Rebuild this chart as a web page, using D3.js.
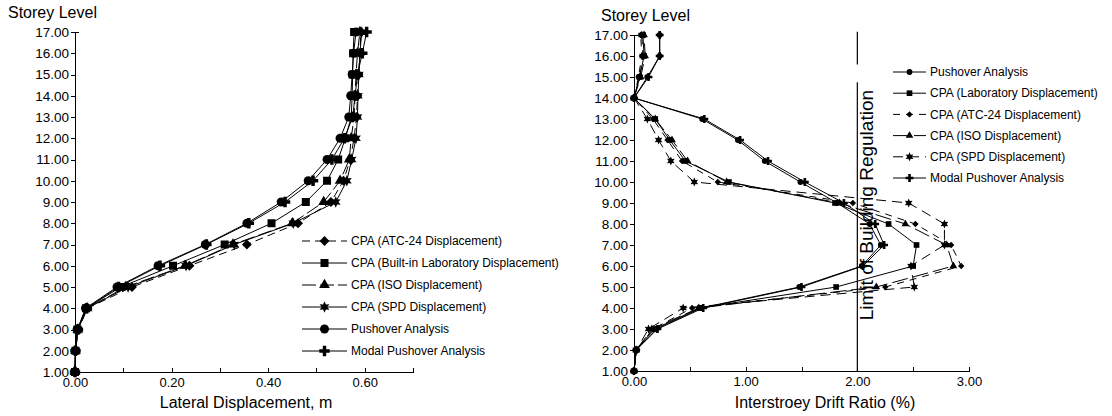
<!DOCTYPE html>
<html>
<head>
<meta charset="utf-8">
<script src="https://cdn.jsdelivr.net/npm/d3@7"></script>
<style>
	body { margin: 0; background: #fff; }
	svg { display: block; font-family: "Liberation Sans", Arial, sans-serif; }
	.axis path, .axis line { stroke: #000; stroke-width: 1; shape-rendering: crispEdges; }
	.axis text { fill: #000; }
</style>
</head>
<body>
<svg id="chart" width="1112" height="416"></svg>
<script>
// storey levels (y categories)
const storeys = [1, 2, 3, 4, 5, 6, 7, 8, 9, 10, 11, 12, 13, 14, 15, 16, 17];

// lateral displacement (m), left panel
const dispAtc = [0, 0.001, 0.007, 0.026, 0.118, 0.237, 0.356, 0.462, 0.530, 0.556, 0.570, 0.578, 0.583, 0.585, 0.587, 0.590, 0.592];
const dispBuiltIn = [0, 0.001, 0.005, 0.023, 0.095, 0.203, 0.310, 0.407, 0.478, 0.522, 0.545, 0.560, 0.572, 0.574, 0.575, 0.576, 0.578];
const dispIso = [0, 0.001, 0.006, 0.025, 0.105, 0.228, 0.327, 0.450, 0.515, 0.549, 0.568, 0.572, 0.578, 0.580, 0.582, 0.585, 0.590];
const dispSpd = [0, 0.001, 0.006, 0.025, 0.110, 0.230, 0.330, 0.452, 0.540, 0.563, 0.573, 0.582, 0.585, 0.586, 0.588, 0.590, 0.594];
const dispPushover = [0, 0.001, 0.005, 0.022, 0.087, 0.172, 0.270, 0.356, 0.427, 0.483, 0.522, 0.549, 0.567, 0.571, 0.574, 0.577, 0.582];
const dispModal = [0, 0.001, 0.006, 0.024, 0.090, 0.176, 0.272, 0.360, 0.435, 0.493, 0.532, 0.558, 0.575, 0.580, 0.585, 0.595, 0.604];

// interstorey drift ratio (%), right panel
const driftPushover = [0, 0.02, 0.20, 0.60, 1.48, 2.04, 2.21, 2.11, 1.82, 1.49, 1.17, 0.93, 0.61, 0, 0.12, 0.23, 0.23];
const driftLab = [0, 0.02, 0.18, 0.59, 1.81, 2.50, 2.53, 2.28, 1.80, 0.85, 0.46, 0.32, 0.19, 0, 0.05, 0.09, 0.08];
const driftAtc = [0, 0.02, 0.17, 0.52, 2.25, 2.93, 2.84, 2.52, 1.96, 0.75, 0.43, 0.30, 0.17, 0, 0.04, 0.07, 0.06];
const driftIso = [0, 0.02, 0.16, 0.58, 2.17, 2.86, 2.80, 2.43, 1.84, 0.83, 0.48, 0.34, 0.19, 0, 0.06, 0.10, 0.09];
const driftSpd = [0, 0.02, 0.13, 0.44, 2.51, 2.48, 2.78, 2.78, 2.46, 0.54, 0.33, 0.22, 0.12, 0, 0.05, 0.08, 0.07];
const driftModal = [0, 0.02, 0.21, 0.62, 1.50, 2.05, 2.24, 2.16, 1.88, 1.53, 1.20, 0.95, 0.63, 0, 0.13, 0.23, 0.23];

// tick values
const yTicks = [1, 2, 3, 4, 5, 6, 7, 8, 9, 10, 11, 12, 13, 14, 15, 16, 17];
const dispTicks = [0, 0.1, 0.2, 0.3, 0.4, 0.5, 0.6, 0.7];
const dispLabels = [0, 0.2, 0.4, 0.6];
const driftTicks = [0, 0.5, 1, 1.5, 2, 2.5, 3];
const driftLabels = [0, 1, 2, 3];
const driftLimit = 2;

// six-pointed star marker
const symbolStar6 = {
	draw(context, size) {
		const r = Math.sqrt(size / 2.2);
		const ri = r * 0.5;
		for (let i = 0; i < 12; i++) {
			const a = Math.PI * i / 6 - Math.PI / 2;
			const rr = i % 2 ? ri : r;
			if (i === 0) context.moveTo(rr * Math.cos(a), rr * Math.sin(a));
			else context.lineTo(rr * Math.cos(a), rr * Math.sin(a));
		}
		context.closePath();
	}
};

const leftSeries = [
	{ label: "CPA (ATC-24 Displacement)", values: dispAtc, symbol: d3.symbolDiamond2, size: 62, dash: "8,5" },
	{ label: "CPA (Built-in Laboratory Displacement)", values: dispBuiltIn, symbol: d3.symbolSquare, size: 64, dash: null },
	{ label: "CPA (ISO Displacement)", values: dispIso, symbol: d3.symbolTriangle, size: 50, dash: "14,4" },
	{ label: "CPA (SPD Displacement)", values: dispSpd, symbol: symbolStar6, size: 70, dash: null },
	{ label: "Pushover Analysis", values: dispPushover, symbol: d3.symbolCircle, size: 64, dash: null },
	{ label: "Modal Pushover Analysis", values: dispModal, symbol: d3.symbolCross, size: 60, dash: null }
];

const rightSeries = [
	{ label: "Pushover Analysis", values: driftPushover, symbol: d3.symbolCircle, size: 26, dash: null },
	{ label: "CPA (Laboratory Displacement)", values: driftLab, symbol: d3.symbolSquare, size: 32, dash: null },
	{ label: "CPA (ATC-24 Displacement)", values: driftAtc, symbol: d3.symbolDiamond2, size: 26, dash: "7,6" },
	{ label: "CPA (ISO Displacement)", values: driftIso, symbol: d3.symbolTriangle, size: 26, dash: "16,5" },
	{ label: "CPA (SPD Displacement)", values: driftSpd, symbol: symbolStar6, size: 44, dash: "10,6" },
	{ label: "Modal Pushover Analysis", values: driftModal, symbol: d3.symbolCross, size: 34, dash: null }
];

const svg = d3.select("#chart");

function drawPanel({ series, xDomain, xRange, yRange, xTicks, xLabels, xTitle, xTitleX, yTitleX, yTitleY, legend }) {

	const x = d3.scaleLinear().domain(xDomain).range(xRange);
	const y = d3.scaleLinear().domain([1, 17]).range(yRange);
	const g = svg.append("g");

	// y axis
	g.append("g")
		.attr("class", "axis")
		.attr("transform", `translate(${xRange[0]},0)`)
		.call(d3.axisLeft(y).tickValues(yTicks).tickSize(4).tickSizeOuter(-4).tickPadding(2).tickFormat(d3.format(".2f")))
		.selectAll("text")
		.style("font-size", "13.5px");

	// x axis, ticks pointing inward
	g.append("g")
		.attr("class", "axis")
		.attr("transform", `translate(0,${yRange[0]})`)
		.call(d3.axisBottom(x).tickValues(xTicks).tickSize(-4).tickSizeOuter(0).tickPadding(6)
			.tickFormat(d => xLabels.some(v => Math.abs(v - d) < 1e-9) ? d3.format(".2f")(d) : ""))
		.selectAll("text")
		.style("font-size", "13px");

	g.append("text")
		.attr("x", xTitleX)
		.attr("y", 408)
		.attr("text-anchor", "middle")
		.style("font-size", "16px")
		.text(xTitle);

	g.append("text")
		.attr("x", yTitleX)
		.attr("y", yTitleY)
		.style("font-size", "16px")
		.text("Storey Level");

	const line = d3.line()
		.x(d => x(d[0]))
		.y(d => y(d[1]));

	series.forEach(s => {
		const pts = s.values.map((v, i) => [v, storeys[i]]);
		g.append("path")
			.attr("d", line(pts))
			.attr("fill", "none")
			.attr("stroke", "#000")
			.attr("stroke-width", 1)
			.attr("stroke-dasharray", s.dash);
		g.selectAll(null)
			.data(pts)
			.enter()
			.append("path")
			.attr("transform", d => `translate(${x(d[0])},${y(d[1])})`)
			.attr("d", d3.symbol(s.symbol, s.size))
			.attr("fill", "#000");
	});

	// legend
	series.forEach((s, i) => {
		const ly = legend.y + i * legend.step;
		const lg = g.append("g").attr("transform", `translate(${legend.x},${ly})`);
		lg.append("line")
			.attr("x1", 0)
			.attr("x2", legend.len)
			.attr("stroke", "#000")
			.attr("stroke-dasharray", s.dash);
		lg.append("path")
			.attr("transform", `translate(${legend.len / 2},0)`)
			.attr("d", d3.symbol(s.symbol, s.size))
			.attr("fill", "#000");
		lg.append("text")
			.attr("x", legend.len + 4)
			.attr("dy", "0.35em")
			.style("font-size", "12px")
			.text(s.label);
	});

	return { x, y, g };
};

drawPanel({
	series: leftSeries,
	xDomain: [0, 0.7],
	xRange: [75, 413],
	yRange: [372, 32],
	xTicks: dispTicks,
	xLabels: dispLabels,
	xTitle: "Lateral Displacement, m",
	xTitleX: 246,
	yTitleX: 8,
	yTitleY: 18,
	legend: { x: 302, y: 241, step: 22, len: 45 }
});

const right = drawPanel({
	series: rightSeries,
	xDomain: [0, 3],
	xRange: [634, 969],
	yRange: [371, 35],
	xTicks: driftTicks,
	xLabels: driftLabels,
	xTitle: "Interstroey Drift Ratio (%)",
	xTitleX: 825,
	yTitleX: 601,
	yTitleY: 21,
	legend: { x: 893, y: 72, step: 21.2, len: 33 }
});

// limit of building regulation
[[17.15, 15.6], [14.75, 1]].forEach(([a, b]) => {
	right.g.append("line")
		.attr("x1", right.x(driftLimit))
		.attr("x2", right.x(driftLimit))
		.attr("y1", right.y(a))
		.attr("y2", right.y(b))
		.attr("stroke", "#000")
		.attr("stroke-width", 1.2);
});

right.g.append("text")
	.attr("transform", `translate(${right.x(driftLimit) + 16},${right.y(8.9)}) rotate(-90)`)
	.attr("text-anchor", "middle")
	.style("font-size", "19px")
	.text("Limit of Building Regulation");
</script>
</body>
</html>
